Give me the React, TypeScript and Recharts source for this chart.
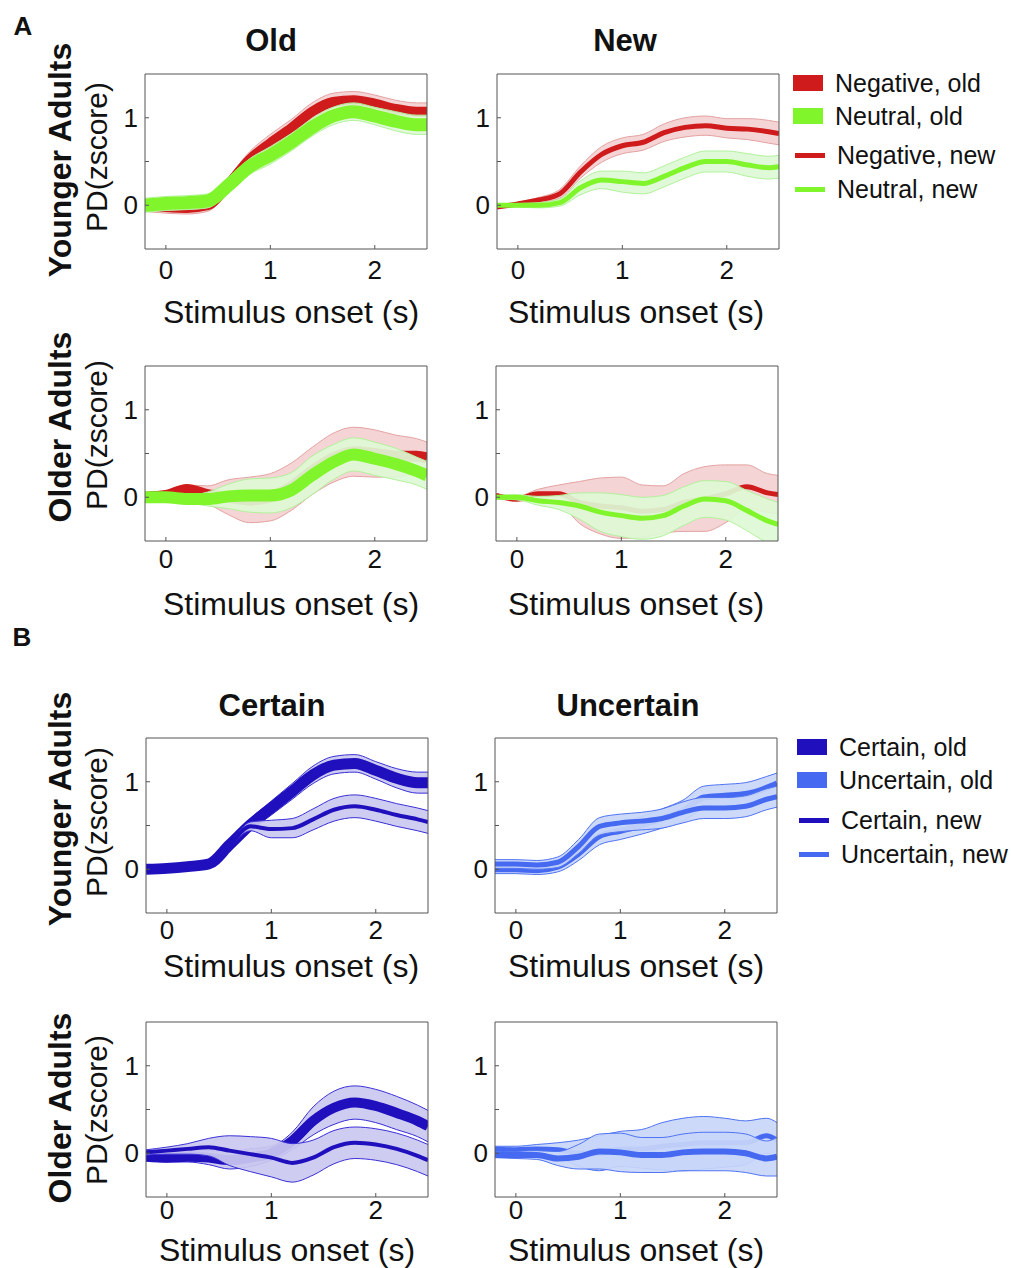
import React from 'react';
import { ComposedChart, Area, Line, XAxis, YAxis } from 'recharts';

// time axis (s) shared by every panel
const time = [-0.2, 0, 0.2, 0.4, 0.6, 0.8, 1.0, 1.2, 1.4, 1.6, 1.8, 2.0, 2.2, 2.4, 2.5];
const xTicks = [0, 1, 2];
const yTicks = [0, 0.5, 1];

// A, younger adults, old items
const yaOldNegMean = [0.0, -0.02, -0.03, 0.0, 0.24, 0.52, 0.71, 0.88, 1.07, 1.18, 1.2, 1.16, 1.1, 1.07, 1.07];
const yaOldNegErr = [0.07, 0.07, 0.07, 0.07, 0.08, 0.09, 0.1, 0.1, 0.1, 0.1, 0.1, 0.1, 0.1, 0.1, 0.1];
const yaOldNeuMean = [0.0, 0.02, 0.03, 0.05, 0.23, 0.44, 0.57, 0.72, 0.89, 1.02, 1.07, 1.02, 0.96, 0.92, 0.92];
const yaOldNeuErr = [0.08, 0.08, 0.08, 0.08, 0.09, 0.09, 0.1, 0.1, 0.1, 0.1, 0.1, 0.1, 0.11, 0.11, 0.11];

// A, younger adults, new items
const yaNewNegMean = [-0.02, 0.015, 0.06, 0.13, 0.38, 0.58, 0.68, 0.72, 0.83, 0.89, 0.91, 0.88, 0.87, 0.84, 0.82];
const yaNewNegErr = [0.01, 0.02, 0.03, 0.05, 0.07, 0.09, 0.09, 0.09, 0.1, 0.11, 0.11, 0.11, 0.12, 0.13, 0.13];
const yaNewNeuMean = [0.0, 0.0, 0.0, 0.03, 0.2, 0.29, 0.27, 0.25, 0.33, 0.43, 0.5, 0.5, 0.46, 0.43, 0.44];
const yaNewNeuErr = [0.01, 0.02, 0.03, 0.04, 0.08, 0.1, 0.12, 0.12, 0.12, 0.12, 0.12, 0.12, 0.13, 0.13, 0.13];

// A, older adults, old items
const oaOldNegMean = [0.0, 0.02, 0.09, 0.03, 0.0, -0.03, 0.0, 0.12, 0.3, 0.45, 0.52, 0.5, 0.47, 0.47, 0.45];
const oaOldNegErr = [0.02, 0.03, 0.05, 0.1, 0.2, 0.26, 0.27, 0.27, 0.27, 0.28, 0.28, 0.27, 0.24, 0.2, 0.18];
const oaOldNeuMean = [0.0, 0.0, -0.02, -0.02, 0.01, 0.02, 0.02, 0.08, 0.25, 0.4, 0.49, 0.44, 0.38, 0.3, 0.25];
const oaOldNeuErr = [0.02, 0.03, 0.04, 0.08, 0.14, 0.19, 0.2, 0.2, 0.22, 0.2, 0.19, 0.19, 0.18, 0.16, 0.16];

// A, older adults, new items
const oaNewNegMean = [0.02, -0.02, 0.04, 0.04, -0.06, -0.1, -0.12, -0.16, -0.14, -0.06, -0.02, 0.04, 0.12, 0.05, 0.03];
const oaNewNegErr = [0.02, 0.03, 0.05, 0.1, 0.24, 0.32, 0.35, 0.3, 0.27, 0.33, 0.37, 0.33, 0.25, 0.22, 0.22];
const oaNewNeuMean = [0.0, 0.0, -0.04, -0.06, -0.1, -0.17, -0.21, -0.24, -0.21, -0.1, -0.02, -0.04, -0.15, -0.27, -0.31];
const oaNewNeuErr = [0.02, 0.03, 0.05, 0.08, 0.15, 0.22, 0.24, 0.24, 0.23, 0.22, 0.21, 0.22, 0.23, 0.25, 0.25];

// B, younger adults, certain
const yaCertOldMean = [0.0, 0.01, 0.03, 0.06, 0.28, 0.51, 0.7, 0.89, 1.08, 1.19, 1.21, 1.13, 1.04, 0.99, 0.99];
const yaCertOldErr = [0.03, 0.03, 0.03, 0.04, 0.06, 0.07, 0.08, 0.09, 0.1, 0.1, 0.1, 0.1, 0.11, 0.12, 0.12];
const yaCertNewMean = [0.0, 0.01, 0.03, 0.06, 0.28, 0.49, 0.46, 0.47, 0.57, 0.68, 0.72, 0.68, 0.62, 0.57, 0.54];
const yaCertNewErr = [0.005, 0.005, 0.005, 0.01, 0.02, 0.05, 0.1, 0.11, 0.12, 0.13, 0.13, 0.13, 0.13, 0.13, 0.13];

// B, younger adults, uncertain
const yaUncOldMean = [0.0, 0.0, -0.01, 0.03, 0.18, 0.38, 0.44, 0.5, 0.58, 0.67, 0.82, 0.84, 0.86, 0.93, 0.98];
const yaUncOldErr = [0.05, 0.05, 0.05, 0.06, 0.08, 0.1, 0.1, 0.1, 0.11, 0.12, 0.13, 0.13, 0.13, 0.13, 0.12];
const yaUncNewMean = [0.06, 0.06, 0.05, 0.08, 0.26, 0.49, 0.53, 0.55, 0.58, 0.65, 0.7, 0.7, 0.72, 0.8, 0.83];
const yaUncNewErr = [0.05, 0.05, 0.05, 0.06, 0.08, 0.1, 0.1, 0.1, 0.11, 0.12, 0.12, 0.12, 0.12, 0.12, 0.12];

// B, older adults, certain
const oaCertOldMean = [-0.04, -0.05, -0.04, -0.05, -0.08, -0.05, 0.0, 0.14, 0.37, 0.52, 0.58, 0.54, 0.46, 0.37, 0.31];
const oaCertOldErr = [0.04, 0.05, 0.06, 0.08, 0.1, 0.1, 0.08, 0.1, 0.16, 0.19, 0.19, 0.19, 0.19, 0.18, 0.18];
const oaCertNewMean = [0.01, 0.03, 0.05, 0.07, 0.03, -0.01, -0.05, -0.11, -0.05, 0.07, 0.12, 0.1, 0.05, -0.03, -0.08];
const oaCertNewErr = [0.03, 0.04, 0.06, 0.1, 0.17, 0.2, 0.22, 0.22, 0.2, 0.19, 0.18, 0.18, 0.18, 0.18, 0.18];

// B, older adults, uncertain
const oaUncOldMean = [0.05, 0.04, 0.05, 0.04, 0.0, 0.0, 0.05, 0.05, 0.08, 0.1, 0.12, 0.12, 0.12, 0.2, 0.15];
const oaUncOldErr = [0.03, 0.04, 0.05, 0.08, 0.15, 0.2, 0.2, 0.22, 0.27, 0.3, 0.3, 0.28, 0.25, 0.2, 0.2];
const oaUncNewMean = [-0.02, -0.02, -0.02, -0.06, -0.04, 0.02, 0.01, -0.02, -0.02, 0.01, 0.02, 0.02, 0.0, -0.06, -0.04];
const oaUncNewErr = [0.03, 0.04, 0.05, 0.08, 0.14, 0.2, 0.22, 0.2, 0.2, 0.21, 0.22, 0.22, 0.22, 0.2, 0.22];

const RED = { line: '#cf1b1b', band: '#f3d0d0', edge: '#e4a2a2' };
const GREEN = { line: '#80f52b', band: '#ddf9d5', edge: '#b2f29c' };
const CERT = { line: '#1f0fbd', band: '#cbc8f0', edge: '#3a2fd6' };
const UNC = { line: '#4569f1', band: '#c8d6f8', edge: '#4f73f2' };

const FONT = '"Liberation Sans", Arial, Helvetica, sans-serif';
const PW = 282;
const PH = 175;

type Series = { mean: number[]; err: number[]; color: typeof RED; width: number };

function Panel({ left, top, series, tickMargin }: { left: number; top: number; series: Series[]; tickMargin: number }) {
  const data = time.map((t, i) => {
    const row: Record<string, any> = { t };
    series.forEach((s, k) => {
      row['m' + k] = s.mean[i];
      row['b' + k] = [s.mean[i] - s.err[i], s.mean[i] + s.err[i]];
    });
    return row;
  });
  return (
    <div style={{ position: 'absolute', left: left - 60, top: top - 5 }}>
      <ComposedChart width={PW + 65} height={PH + 45} data={data} margin={{ top: 5, right: 5, left: 0, bottom: 0 }}>
        <XAxis dataKey="t" type="number" domain={[-0.2, 2.5]} ticks={xTicks} allowDataOverflow height={40}
          tickSize={-4} tickMargin={tickMargin} stroke="#555" tick={{ fill: '#111', fontSize: 26 }} />
        <XAxis xAxisId="top" dataKey="t" type="number" orientation="top" mirror domain={[-0.2, 2.5]} ticks={xTicks}
          allowDataOverflow tick={false} tickSize={4} stroke="#555" />
        <YAxis type="number" domain={[-0.5, 1.5]} ticks={yTicks} allowDataOverflow width={60}
          tickSize={-4} tickMargin={11} stroke="#555" tick={{ fill: '#111', fontSize: 26 }}
          tickFormatter={(v: number) => (v === 0.5 ? '' : String(v))} />
        <YAxis yAxisId="r" type="number" orientation="right" mirror domain={[-0.5, 1.5]} ticks={yTicks}
          allowDataOverflow tick={false} tickSize={4} stroke="#555" />
        {series.map((s, k) => [
          <Area key={'b' + k} dataKey={'b' + k} type="monotone" fill={s.color.band} fillOpacity={0.92}
            stroke={s.color.edge} strokeWidth={1} isAnimationActive={false} activeDot={false}
            zIndex={110 + k * 20} />,
          <Line key={'m' + k} dataKey={'m' + k} type="monotone" stroke={s.color.line} strokeWidth={s.width}
            dot={false} activeDot={false} isAnimationActive={false} zIndex={120 + k * 20} />,
        ])}
      </ComposedChart>
    </div>
  );
}

function Text({ x, y, children, size, bold, rotate }: { x: number; y: number; children: React.ReactNode; size: number; bold?: boolean; rotate?: boolean }) {
  return (
    <div style={{
      position: 'absolute', left: x, top: y, whiteSpace: 'nowrap', fontSize: size, fontWeight: bold ? 'bold' : 'normal',
      lineHeight: 1, color: '#111', transform: `translate(-50%, -50%)${rotate ? ' rotate(-90deg)' : ''}`,
    }}>{children}</div>
  );
}

function LegendRow({ x, y, color, thick, label }: { x: number; y: number; color: string; thick: boolean; label: string }) {
  const h = thick ? 16 : 5;
  return (
    <>
      <div style={{ position: 'absolute', left: x, top: y - h / 2, width: 30, height: h, background: color }} />
      <div style={{ position: 'absolute', left: x + 42, top: y - 13, fontSize: 25, lineHeight: '26px', color: '#111', whiteSpace: 'nowrap' }}>{label}</div>
    </>
  );
}

export default function App() {
  return (
    <div style={{ position: 'fixed', left: 0, top: 0, width: 1011, height: 1268, overflow: 'hidden', background: '#fff', fontFamily: FONT }}>
      <Text x={23} y={26} size={26} bold>A</Text>
      <Text x={22} y={637} size={26} bold>B</Text>
      <Text x={271} y={40} size={31} bold>Old</Text>
      <Text x={625} y={40} size={31} bold>New</Text>
      <Text x={272} y={705} size={31} bold>Certain</Text>
      <Text x={628} y={705} size={31} bold>Uncertain</Text>

      <Text x={60} y={160} size={32} bold rotate>Younger Adults</Text>
      <Text x={60} y={427} size={32} bold rotate>Older Adults</Text>
      <Text x={60} y={809} size={32} bold rotate>Younger Adults</Text>
      <Text x={60} y={1108} size={32} bold rotate>Older Adults</Text>
      <Text x={97} y={157} size={30} rotate>PD(zscore)</Text>
      <Text x={97} y={435} size={30} rotate>PD(zscore)</Text>
      <Text x={97} y={822} size={30} rotate>PD(zscore)</Text>
      <Text x={97} y={1110} size={30} rotate>PD(zscore)</Text>

      <Panel left={145} top={74} tickMargin={16} series={[
        { mean: yaOldNegMean, err: yaOldNegErr, color: RED, width: 10 },
        { mean: yaOldNeuMean, err: yaOldNeuErr, color: GREEN, width: 13 },
      ]} />
      <Panel left={497} top={74} tickMargin={16} series={[
        { mean: yaNewNegMean, err: yaNewNegErr, color: RED, width: 5 },
        { mean: yaNewNeuMean, err: yaNewNeuErr, color: GREEN, width: 5 },
      ]} />
      <Panel left={145} top={366} tickMargin={13} series={[
        { mean: oaOldNegMean, err: oaOldNegErr, color: RED, width: 11 },
        { mean: oaOldNeuMean, err: oaOldNeuErr, color: GREEN, width: 12 },
      ]} />
      <Panel left={496} top={366} tickMargin={13} series={[
        { mean: oaNewNegMean, err: oaNewNegErr, color: RED, width: 5 },
        { mean: oaNewNeuMean, err: oaNewNeuErr, color: GREEN, width: 5 },
      ]} />
      <Panel left={146} top={738} tickMargin={12} series={[
        { mean: yaCertOldMean, err: yaCertOldErr, color: CERT, width: 11 },
        { mean: yaCertNewMean, err: yaCertNewErr, color: CERT, width: 4 },
      ]} />
      <Panel left={495} top={738} tickMargin={12} series={[
        { mean: yaUncOldMean, err: yaUncOldErr, color: UNC, width: 6 },
        { mean: yaUncNewMean, err: yaUncNewErr, color: UNC, width: 5 },
      ]} />
      <Panel left={146} top={1022} tickMargin={8} series={[
        { mean: oaCertOldMean, err: oaCertOldErr, color: CERT, width: 10 },
        { mean: oaCertNewMean, err: oaCertNewErr, color: CERT, width: 4 },
      ]} />
      <Panel left={495} top={1022} tickMargin={8} series={[
        { mean: oaUncOldMean, err: oaUncOldErr, color: UNC, width: 5 },
        { mean: oaUncNewMean, err: oaUncNewErr, color: UNC, width: 6 },
      ]} />

      <Text x={291} y={312} size={32}>Stimulus onset (s)</Text>
      <Text x={636} y={312} size={32}>Stimulus onset (s)</Text>
      <Text x={291} y={604} size={32}>Stimulus onset (s)</Text>
      <Text x={636} y={604} size={32}>Stimulus onset (s)</Text>
      <Text x={291} y={966} size={32}>Stimulus onset (s)</Text>
      <Text x={636} y={966} size={32}>Stimulus onset (s)</Text>
      <Text x={287} y={1250} size={32}>Stimulus onset (s)</Text>
      <Text x={636} y={1250} size={32}>Stimulus onset (s)</Text>

      <LegendRow x={793} y={83} color={RED.line} thick label="Negative, old" />
      <LegendRow x={793} y={116} color={GREEN.line} thick label="Neutral, old" />
      <LegendRow x={795} y={155} color={RED.line} thick={false} label="Negative, new" />
      <LegendRow x={795} y={189} color={GREEN.line} thick={false} label="Neutral, new" />
      <LegendRow x={797} y={747} color={CERT.line} thick label="Certain, old" />
      <LegendRow x={797} y={780} color={UNC.line} thick label="Uncertain, old" />
      <LegendRow x={799} y={820} color={CERT.line} thick={false} label="Certain, new" />
      <LegendRow x={799} y={854} color={UNC.line} thick={false} label="Uncertain, new" />
    </div>
  );
}
